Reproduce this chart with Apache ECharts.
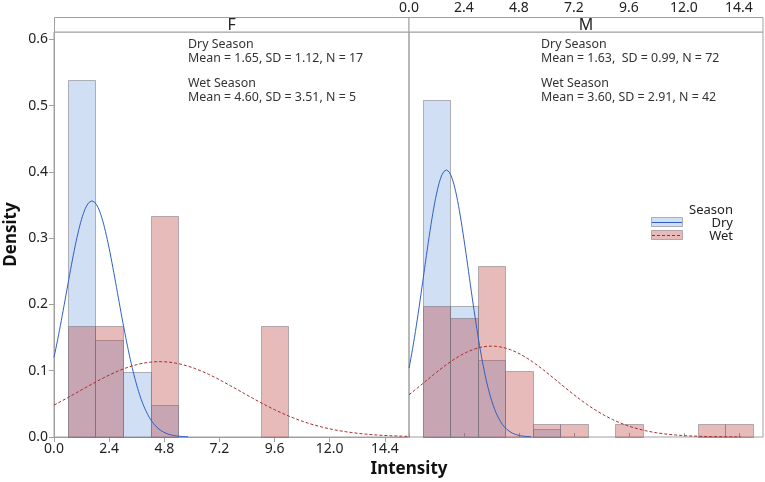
<!DOCTYPE html>
<html><head><meta charset="utf-8">
<script src="https://cdn.jsdelivr.net/npm/echarts@6/dist/echarts.min.js"></script>
<style>html,body{margin:0;padding:0;background:#fff}#c{width:765px;height:482px}</style>
</head><body><div id="c"></div>
<script>
// ---- data ----
const xTicks = [0, 2.4, 4.8, 7.2, 9.6, 12.0, 14.4];
const yTicks = [0, 0.1, 0.2, 0.3, 0.4, 0.5, 0.6];
const binWidth = 1.2;
const binCenters = [1.2, 2.4, 3.6, 4.8, 6.0, 7.2, 8.4, 9.6, 10.8, 12.0, 13.2, 14.4];
const fDry = [0.539, 0.147, 0.098, 0.049, 0, 0, 0, 0, 0, 0, 0, 0];
const fWet = [0.167, 0.167, 0, 0.333, 0, 0, 0, 0.167, 0, 0, 0, 0];
const mDry = [0.509, 0.197, 0.116, 0, 0.0116, 0, 0, 0, 0, 0, 0, 0];
const mWet = [0.198, 0.179, 0.258, 0.099, 0.0198, 0.0198, 0, 0.0198, 0, 0, 0.0198, 0.0198];
const fDryFit = {mean: 1.65, sd: 1.12};
const fWetFit = {mean: 4.60, sd: 3.51};
const mDryFit = {mean: 1.63, sd: 0.99};
const mWetFit = {mean: 3.60, sd: 2.91};
const panels = ['F', 'M'];
const fText = ['Dry Season', 'Mean = 1.65, SD = 1.12, N = 17', 'Wet Season', 'Mean = 4.60, SD = 3.51, N = 5'];
const mText = ['Dry Season', 'Mean = 1.63,  SD = 0.99, N = 72', 'Wet Season', 'Mean = 3.60, SD = 2.91, N = 42'];
const legendTitle = 'Season';
const legendNames = ['Dry', 'Wet'];

// ---- helpers ----
const FONT = 'Noto Sans';
const DRY_FILL = 'rgba(100,150,215,0.30)';
const WET_FILL = 'rgba(185,50,50,0.33)';
const BAR_STROKE = 'rgba(120,120,130,0.55)';
const DRY_LINE = '#2f5fc4';
const WET_LINE = '#a52a2a';

function hist(vals){ return binCenters.map((c,i)=>[c, vals[i]]); }
function fitCurve(fit){
  // fitted normal density drawn from the stated mean and SD
  const lo = Math.max(0, fit.mean - 3.75*fit.sd), hi = fit.mean + 3.75*fit.sd;
  const pts = [];
  for (let x = lo; x <= hi + 1e-9; x += 0.04){
    const z = (x - fit.mean)/fit.sd;
    pts.push([x, Math.exp(-0.5*z*z)/(fit.sd*Math.sqrt(2*Math.PI))]);
  }
  return pts;
}
function barRender(fill){
  return function(params, api){
    const c = api.value(0), h = api.value(1);
    if (!h) return null;
    const p0 = api.coord([c - binWidth/2, h]);
    const p1 = api.coord([c + binWidth/2, 0]);
    return {type:'rect', shape:{x:Math.round(p0[0])+0.5, y:Math.round(p0[1])+0.5, width:Math.round(p1[0])-Math.round(p0[0]), height:Math.round(p1[1])-Math.round(p0[1])},
      style:{fill:fill, stroke:BAR_STROKE, lineWidth:1}};
  };
}
function histSeries(vals, idx, fill, z){
  return {type:'custom', xAxisIndex:idx, yAxisIndex:idx, data:hist(vals), renderItem:barRender(fill), z:z, silent:true};
}
function lineSeries(fit, idx, color, dashed){
  return {type:'line', xAxisIndex:idx, yAxisIndex:idx, data:fitCurve(fit), showSymbol:false, symbol:'none', smooth:false, clip:true,
    lineStyle:{color:color, width:1, type: dashed ? [3,2] : 'solid'}, z:5, silent:true};
}

const GRID_TOP = 32, GRID_BOTTOM = 45, X_MAX = 15.45;
const grids = [
  {left:54, top:GRID_TOP, width:355, bottom:GRID_BOTTOM, show:true, borderColor:'#a0a0a0', borderWidth:1, containLabel:false, outerBoundsMode:'none'},
  {left:409, top:GRID_TOP, width:354, bottom:GRID_BOTTOM, show:true, borderColor:'#a0a0a0', borderWidth:1, containLabel:false, outerBoundsMode:'none'}
];
const axisLab = {color:'#222', fontFamily:FONT, fontSize:14, formatter:v=>v.toFixed(1)};

const option = {
  backgroundColor:'#fff',
  animation:false,
  grid: grids,
  xAxis: [
    {type:'value', gridIndex:0, min:0, max:X_MAX, position:'bottom', splitLine:{show:false},
      axisLine:{show:true, lineStyle:{color:'#a0a0a0'}}, axisTick:{show:true, length:5, lineStyle:{color:'#a0a0a0'}, customValues:xTicks},
      axisLabel:Object.assign({margin:5, customValues:xTicks}, axisLab),
      name:'Intensity', nameLocation:'middle', nameGap:24, nameTextStyle:{fontFamily:FONT, fontSize:17, fontWeight:'bold', color:'#111', padding:[0,0,0,355]}},
    {type:'value', gridIndex:1, min:0, max:X_MAX, position:'top', offset:15, splitLine:{show:false},
      axisLine:{show:false}, axisTick:{show:true, length:4, lineStyle:{color:'#a0a0a0'}, customValues:xTicks},
      axisLabel:Object.assign({margin:2, customValues:xTicks}, axisLab)}
  ],
  yAxis: [
    {type:'value', gridIndex:0, min:0, max:0.611, splitLine:{show:false},
      axisLine:{show:true, lineStyle:{color:'#a0a0a0'}}, axisTick:{show:true, length:5, lineStyle:{color:'#a0a0a0'}, customValues:yTicks},
      axisLabel:Object.assign({margin:6, customValues:yTicks}, axisLab),
      name:'Density', nameLocation:'middle', nameGap:34, nameTextStyle:{fontFamily:FONT, fontSize:17, fontWeight:'bold', color:'#111'}},
    {type:'value', gridIndex:1, min:0, max:0.611, splitLine:{show:false},
      axisLine:{show:false}, axisTick:{show:false}, axisLabel:{show:false}}
  ],
  series: [
    histSeries(fDry, 0, DRY_FILL, 2), histSeries(fWet, 0, WET_FILL, 3),
    histSeries(mDry, 1, DRY_FILL, 2), histSeries(mWet, 1, WET_FILL, 3),
    lineSeries(fDryFit, 0, DRY_LINE, false), lineSeries(fWetFit, 0, WET_LINE, true),
    lineSeries(mDryFit, 1, DRY_LINE, false), lineSeries(mWetFit, 1, WET_LINE, true)
  ],
  graphic: []
};

// strip headers
const strips = [{x:54.5, w:354.5}, {x:409, w:354}];
panels.forEach((p,i)=>{
  option.graphic.push({type:'rect', shape:{x:strips[i].x, y:17.5, width:strips[i].w, height:14.5}, style:{fill:'#fff', stroke:'#a0a0a0', lineWidth:1}, z:10});
  option.graphic.push({type:'text', x:strips[i].x + strips[i].w/2, y:25, style:{text:p, fontFamily:FONT, fontSize:16, fill:'#222', align:'center', verticalAlign:'middle'}, z:11});
});
// annotations
function addNotes(lines, x){
  const ys = [44, 58, 83, 97];
  lines.forEach((t,i)=>option.graphic.push({type:'text', x:x, y:ys[i], style:{text:t, fontFamily:FONT, fontSize:12.4, fill:'#333', verticalAlign:'middle'}, z:11}));
}
addNotes(fText, 188);
addNotes(mText, 541);
// legend
const legStyle = {fontFamily:FONT, fontSize:13, fill:'#222', align:'right', verticalAlign:'middle'};
option.graphic.push({type:'text', x:733, y:210, style:Object.assign({text:legendTitle}, legStyle), z:11});
option.graphic.push({type:'text', x:733, y:223, style:Object.assign({text:legendNames[0]}, legStyle), z:11});
option.graphic.push({type:'text', x:733, y:236, style:Object.assign({text:legendNames[1]}, legStyle), z:11});
option.graphic.push({type:'rect', shape:{x:651.5, y:217.5, width:31, height:9}, style:{fill:DRY_FILL, stroke:BAR_STROKE, lineWidth:1}, z:11});
option.graphic.push({type:'line', shape:{x1:652, y1:222.5, x2:682, y2:222.5}, style:{stroke:DRY_LINE, lineWidth:1}, z:12});
option.graphic.push({type:'rect', shape:{x:651.5, y:230.5, width:31, height:9}, style:{fill:WET_FILL, stroke:BAR_STROKE, lineWidth:1}, z:11});
option.graphic.push({type:'line', shape:{x1:652, y1:235.5, x2:682, y2:235.5}, style:{stroke:WET_LINE, lineWidth:1, lineDash:[3,2]}, z:12});

const chart = echarts.init(document.getElementById('c'), null, {renderer:'canvas'});
chart.setOption(option);
</script></body></html>
